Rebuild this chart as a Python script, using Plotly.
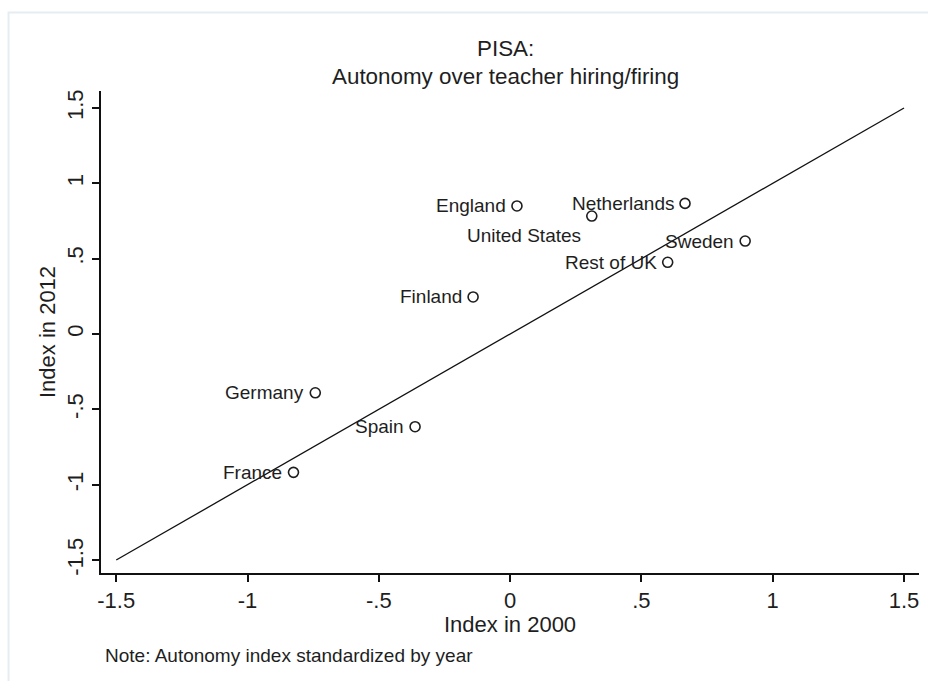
import plotly.graph_objects as go

# Country-level autonomy index (standardized), 2000 vs 2012
countries = ["England", "Netherlands", "United States", "Sweden", "Rest of UK",
             "Finland", "Germany", "Spain", "France"]
index_2000 = [0.026, 0.666, 0.311, 0.895, 0.600, -0.141, -0.742, -0.362, -0.825]
index_2012 = [0.850, 0.867, 0.783, 0.617, 0.476, 0.246, -0.390, -0.615, -0.918]
# label placement relative to each marker (clock position, Stata-style)
label_clock = [9, 9, 7, 9, 9, 9, 9, 9, 9]

# 45-degree reference line
line_x = [-1.5, 1.5]
line_y = [-1.5, 1.5]

tick_vals = [-1.5, -1, -0.5, 0, 0.5, 1, 1.5]
tick_text = ["-1.5", "-1", "-.5", "0", ".5", "1", "1.5"]

FONT = "Liberation Sans, Arial, sans-serif"
INK = "#1e1e1e"

fig = go.Figure()
fig.add_trace(go.Scatter(
    x=line_x, y=line_y, mode="lines",
    line=dict(color="#111111", width=1.3),
    hoverinfo="skip", showlegend=False,
))
fig.add_trace(go.Scatter(
    x=index_2000, y=index_2012, mode="markers",
    text=countries, hoverinfo="text",
    marker=dict(symbol="circle-open", size=10, color=INK, line=dict(width=1.6, color=INK)),
    showlegend=False,
))

# marker labels, offset to the left (9 o'clock) or lower-left (7 o'clock)
label_annots = []
for name, xv, yv, clock in zip(countries, index_2000, index_2012, label_clock):
    label_annots.append(dict(
        text=name, x=xv, y=yv, xref="x", yref="y",
        xanchor="right", yanchor="middle", showarrow=False,
        xshift=-9, yshift=(-19 if clock == 7 else 0),
        font=dict(family=FONT, size=19, color=INK),
    ))

axis_common = dict(
    tickvals=tick_vals, ticktext=tick_text,
    showgrid=False, zeroline=False,
    showline=True, linecolor="#111111", linewidth=1.5,
    ticks="outside", ticklen=7, tickwidth=1.5, tickcolor="#111111",
    tickfont=dict(family=FONT, size=22, color=INK),
)

fig.update_layout(
    width=928, height=681,
    margin=dict(l=101, r=9, t=91, b=108),
    paper_bgcolor="white", plot_bgcolor="white",
    xaxis=dict(range=[-1.558, 1.557], **axis_common),
    yaxis=dict(range=[-1.586, 1.613], tickangle=-90, **axis_common),
    shapes=[dict(type="rect", xref="paper", yref="paper",
                 x0=-0.113, x1=1.5, y0=-1.0, y1=1.163,
                 line=dict(color="#e6edf2", width=2), layer="below")],
    annotations=label_annots + [
        dict(text="PISA:", xref="paper", yref="paper", x=0.495, y=1.089,
             xanchor="center", yanchor="middle", showarrow=False,
             font=dict(family=FONT, size=22.4, color=INK)),
        dict(text="Autonomy over teacher hiring/firing", xref="paper", yref="paper",
             x=0.495, y=1.031, xanchor="center", yanchor="middle", showarrow=False,
             font=dict(family=FONT, size=22.4, color=INK)),
        dict(text="Index in 2000", xref="paper", yref="paper", x=0.5, y=-0.107,
             xanchor="center", yanchor="middle", showarrow=False,
             font=dict(family=FONT, size=22, color=INK)),
        dict(text="Index in 2012", xref="paper", yref="paper", x=-0.066, y=0.5,
             xanchor="center", yanchor="middle", showarrow=False, textangle=-90,
             font=dict(family=FONT, size=22, color=INK)),
        dict(text="Note: Autonomy index standardized by year", xref="paper", yref="paper",
             x=0.003, y=-0.172, xanchor="left", yanchor="middle", showarrow=False,
             font=dict(family=FONT, size=19, color=INK)),
    ],
)

fig.write_html("out.html")
